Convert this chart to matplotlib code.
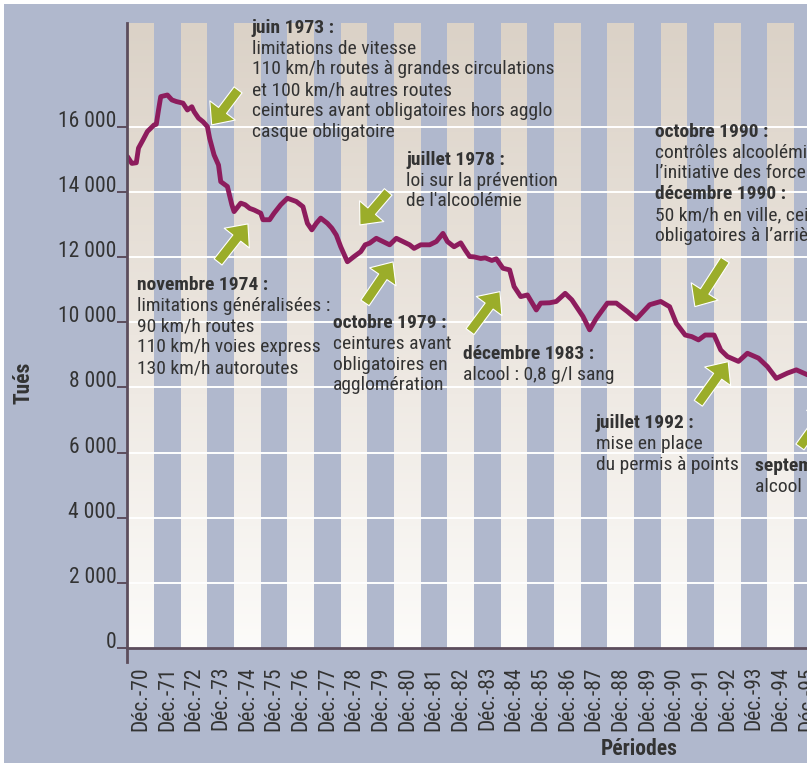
import numpy as np
import matplotlib.pyplot as plt
from matplotlib import transforms
from matplotlib.patches import Rectangle
from matplotlib.colors import LinearSegmentedColormap

plt.rcParams['font.family'] = ['Roboto Condensed', 'DejaVu Sans']

# Données : nombre de tués (cumul sur 12 mois), mois comptés depuis décembre 1970
mois = [-6, -4, -2, -1, 1, 3, 6, 7, 8, 9, 12, 14, 16, 19, 21, 23, 24, 26, 28, 30,
        31, 33, 35, 36, 39, 41, 42, 45, 47, 49, 51, 54, 55, 58, 60, 63, 66, 68, 70,
        73, 75, 77, 79, 81, 84, 86, 88, 90, 93, 96, 99, 101, 103, 106, 109, 112,
        115, 118, 121, 123, 126, 130, 133, 136, 138, 141, 144, 146, 148, 150, 153,
        155, 158, 160, 163, 166, 168, 171, 174, 178, 180, 184, 187, 191, 194, 199,
        202, 205, 210, 214, 219, 223, 229, 234, 238, 241, 245, 248, 251, 254, 258,
        261, 264, 269, 273, 278, 282, 286, 291, 295, 300, 304]
tues = [15090, 14880, 14900, 15350, 15600, 15860, 16060, 16080, 16520, 16930, 16980,
        16830, 16780, 16730, 16520, 16620, 16470, 16270, 16160, 16010, 15650, 15140,
        14830, 14320, 14170, 13610, 13400, 13660, 13610, 13500, 13450, 13350, 13150,
        13150, 13350, 13610, 13810, 13760, 13710, 13550, 13040, 12840, 13040, 13200,
        13040, 12890, 12680, 12320, 11860, 12020, 12170, 12380, 12430, 12580, 12480,
        12380, 12580, 12480, 12380, 12270, 12380, 12380, 12480, 12730, 12480, 12320,
        12440, 12220, 12020, 12010, 11960, 11980, 11900, 11950, 11660, 11610, 11100,
        10790, 10840, 10380, 10590, 10600, 10640, 10890, 10690, 10180, 9770, 10120,
        10590, 10590, 10330, 10100, 10540, 10640, 10480, 9970, 9610, 9560, 9460, 9610,
        9610, 9150, 8950, 8800, 9050, 8900, 8640, 8280, 8440, 8540, 8390, 8300]

periodes = ['Déc.-%02d' % (a % 100) for a in range(1970, 2006)]
graduations = [0, 2000, 4000, 6000, 8000, 10000, 12000, 14000, 16000]

# annotations : (x en années depuis déc. 70, y en tués, lignes, gras ?)
evenements = [
    (4.17, 19042, [("juin 1973 :", True), ("limitations de vitesse", False),
                   ("110 km/h routes à grandes circulations", False),
                   ("et 100 km/h autres routes", False),
                   ("ceintures avant obligatoires hors agglo", False),
                   ("casque obligatoire", False)]),
    (-0.14, 11149, [("novembre 1974 :", True), ("limitations généralisées :", False),
                    ("90 km/h routes", False), ("110 km/h voies express", False),
                    ("130 km/h autoroutes", False)]),
    (9.95, 14988, [("juillet 1978 :", True), ("loi sur la prévention", False),
                   ("de l'alcoolémie", False)]),
    (7.21, 9982, [("octobre 1979 :", True), ("ceintures avant", False),
                  ("obligatoires en", False), ("agglomération", False)]),
    (12.08, 9029, [("décembre 1983 :", True), ("alcool : 0,8 g/l sang", False)]),
    (19.28, 15848, [("octobre 1990 :", True), ("contrôles alcoolémiques à", False),
                    ("l’initiative des forces de l’ordre", False),
                    ("décembre 1990 :", True), ("50 km/h en ville, ceintures", False),
                    ("obligatoires à l’arrière", False)]),
    (17.07, 6910, [("juillet 1992 :", True), ("mise en place", False),
                   ("du permis à points", False)]),
    (23.03, 5590, [("septembre 1995 :", True), ("alcool : 0,5 g/l sang", False)]),
]
# flèches : (queue, pointe)
fleches = [((3.65, 17138), (2.66, 16063)),
           ((2.90, 11855), (4.02, 13022)),
           ((9.28, 14005), (8.22, 12991)),
           ((8.41, 10596), (9.46, 11855)),
           ((12.35, 9714), (13.47, 10943)),
           ((21.91, 11916), (20.78, 10482)),
           ((20.91, 7515), (22.03, 8793)),
           ((24.72, 6173), (25.85, 7463))]

FOND = '#b0b8cd'
AXE = '#5c4d5c'
TEXTE = '#333333'
LIGNE = '#8d1c5d'
VERT = '#9bad2a'

W, H = 807, 766
fig = plt.figure(figsize=(W / 100, H / 100), dpi=100)
fig.patch.set_facecolor('white')
fig.add_artist(Rectangle((4 / W, 3 / H), 1, 1 - 7 / H, transform=fig.transFigure,
                         fc=FOND, ec='none', zorder=0))

# l'axe se prolonge au-delà du bord droit (image recadrée)
ax = fig.add_axes([127.4 / W, (H - 648) / H, 960 / W, (648 - 22.7) / H])
ax.patch.set_visible(False)
xmax = len(periodes) - 0.5
ymax = 19200

degrade = LinearSegmentedColormap.from_list('deg', ['#fcfbf9', '#ece6df', '#dbd2c7'])
ax.imshow(np.linspace(1, 0, 200).reshape(-1, 1), cmap=degrade, aspect='auto',
          extent=(-0.5, xmax, 0, ymax), zorder=0)
for k in range(1, len(periodes), 2):
    ax.axvspan(k - 0.5, k + 0.5, color=FOND, lw=0, zorder=1)
for g in graduations[1:]:
    ax.axhline(g, color='white', lw=1.4, zorder=2)

ax.plot(np.array(mois) / 12, tues, color=LIGNE, lw=3.5, zorder=4,
        solid_joinstyle='round', solid_capstyle='round')

ax.set_xlim(-0.5, xmax)
ax.set_ylim(0, ymax)

for s in ['top', 'right']:
    ax.spines[s].set_visible(False)
for s in ['left', 'bottom']:
    ax.spines[s].set_color(AXE)
    ax.spines[s].set_linewidth(2)
    ax.spines[s].set_zorder(5)
ax.spines['left'].set_bounds(-430, ymax)

ax.set_yticks(graduations, labels=[f'{g:,}'.replace(',', ' ') for g in graduations],
              va='baseline')
ax.tick_params(axis='y', length=7, width=1.4, color=AXE, pad=1,
               labelsize=15.5, labelcolor=TEXTE)
ax.set_xticks(range(len(periodes)), labels=periodes, rotation=90)
ax.tick_params(axis='x', length=0, pad=13, labelsize=15.5, labelcolor=TEXTE)

fig.text(23 / W, 1 - 383 / H, 'Tués', rotation=90, ha='center', va='center',
         fontsize=15.5, fontweight='bold', color=TEXTE)
fig.text(639 / W, 1 - 749 / H, 'Périodes', ha='center', va='center',
         fontsize=15.5, fontweight='bold', color=TEXTE)

for x, y, lignes in evenements:
    for i, (txt, gras) in enumerate(lignes):
        tr = transforms.offset_copy(ax.transData, fig=fig, x=0, y=-20.8 * i, units='dots')
        ax.text(x, y, txt, transform=tr, ha='left', va='center', fontsize=14,
                fontweight='bold' if gras else 'normal', color=TEXTE, zorder=6,
                clip_on=False)

for queue, pointe in fleches:
    ax.annotate('', xy=pointe, xytext=queue, annotation_clip=False, zorder=6,
                arrowprops=dict(arrowstyle='simple,head_length=1.3,head_width=2.3,tail_width=0.72',
                                mutation_scale=10, fc=VERT, ec='white', lw=0.8,
                                shrinkA=0, shrinkB=0))

fig.savefig('out.png', dpi=100)
